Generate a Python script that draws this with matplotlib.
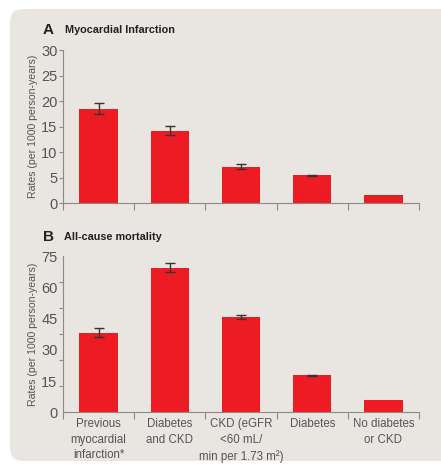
import numpy as np
import matplotlib.pyplot as plt
from matplotlib.patches import FancyBboxPatch
from matplotlib.ticker import FixedLocator, NullFormatter
plt.switch_backend('agg')

plt.rcParams['font.family'] = ['Liberation Sans', 'DejaVu Sans']

# data
categories = ['Previous\nmyocardial\ninfarction*', 'Diabetes\nand CKD',
              'CKD (eGFR\n<60 mL/\nmin per 1.73 m²)', 'Diabetes',
              'No diabetes\nor CKD']
mi_rate = [18.5, 14.1, 7.2, 5.5, 1.6]
mi_low = [17.5, 13.3, 6.8, 5.4, 1.6]
mi_high = [19.7, 15.2, 7.6, 5.6, 1.6]
mort_rate = [37.9, 69.1, 45.6, 17.8, 5.9]
mort_low = [36.0, 67.2, 44.8, 17.5, 5.9]
mort_high = [40.5, 71.6, 46.5, 18.1, 5.9]
mi_ticks = [0, 5, 10, 15, 20, 25, 30]
mort_labels = [0, 15, 30, 45, 60, 75]

red = '#ed1c24'
bg = '#e9e5e1'
axcol = '#8a8a8a'
txtcol = '#555555'

W, H = 441, 468
fig = plt.figure(figsize=(W/100, H/100), dpi=100)
fig.patch.set_facecolor('white')
panel = FancyBboxPatch((10/W, 7/H), (W+20)/W, (H-9-7)/H,
                       boxstyle='round,pad=0,rounding_size=0.03',
                       transform=fig.transFigure, facecolor=bg,
                       edgecolor='none', zorder=-5, mutation_aspect=W/H)
fig.patches.append(panel)

def setup(ax):
    ax.set_zorder(2)
    ax.set_facecolor('none')
    for s in ['top', 'right']:
        ax.spines[s].set_visible(False)
    ax.spines['left'].set_color(axcol)
    ax.spines['bottom'].set_color(axcol)
    ax.spines['left'].set_linewidth(0.8)
    ax.spines['bottom'].set_linewidth(0.8)
    ax.set_xlim(-0.5, 4.5)
    ax.set_xticks(np.arange(-0.5, 5, 1))
    ax.set_xticklabels([])
    ax.tick_params(axis='x', which='major', length=5, color=axcol, width=0.8)
    ax.tick_params(axis='y', which='both', length=3, color=axcol, width=0.8,
                   labelsize=10.5, labelcolor=txtcol, pad=1)
    ax.set_ylabel('Rates (per 1000 person-years)', fontsize=7.6,
                  color=txtcol, labelpad=2)

x = np.arange(len(categories))
bw = 0.54

ax1 = fig.add_axes([63/W, 1-203.3/H, 356/W, 153.3/H])
setup(ax1)
ax1.bar(x, mi_rate, width=bw, color=red, zorder=2)
err1 = [np.array(mi_rate) - np.array(mi_low), np.array(mi_high) - np.array(mi_rate)]
ax1.errorbar(x[:4], mi_rate[:4], yerr=[e[:4] for e in err1], fmt='none',
             ecolor='#333333', elinewidth=1, capsize=3.5, capthick=1, zorder=3)
ax1.set_ylim(0, 30)
ax1.set_yticks(mi_ticks)

ax2 = fig.add_axes([63/W, 1-412.3/H, 356/W, 156.3/H])
setup(ax2)
ax2.bar(x, mort_rate, width=bw, color=red, zorder=2)
err2 = [np.array(mort_rate) - np.array(mort_low), np.array(mort_high) - np.array(mort_rate)]
ax2.errorbar(x[:4], mort_rate[:4], yerr=[e[:4] for e in err2], fmt='none',
             ecolor='#333333', elinewidth=1, capsize=3.5, capthick=1, zorder=3)
ax2.set_ylim(0, 75)
# labels every 15, tick marks every 12.5 (as in the original)
ax2.set_yticks(mort_labels)
ax2.tick_params(axis='y', which='major', length=0, pad=4)
ax2.yaxis.set_minor_locator(FixedLocator(np.linspace(0, 75, 7)))
ax2.yaxis.set_minor_formatter(NullFormatter())
for i, c in enumerate(categories):
    ax2.text(x[i], -0.035, c, transform=ax2.get_xaxis_transform(),
             ha='center', va='top', fontsize=8.3, color=txtcol, linespacing=1.42)

fig.text(48/W, 1-30/H, 'A', fontsize=11, fontweight='bold', ha='center', va='center', color='#222222')
fig.text(65/W, 1-30/H, 'Myocardial Infarction', fontsize=7.8, fontweight='bold', ha='left', va='center', color='#222222')
fig.text(48/W, 1-237/H, 'B', fontsize=11, fontweight='bold', ha='center', va='center', color='#222222')
fig.text(64/W, 1-237/H, 'All-cause mortality', fontsize=7.8, fontweight='bold', ha='left', va='center', color='#222222')

fig.savefig('out.png', dpi=100, facecolor='white')
